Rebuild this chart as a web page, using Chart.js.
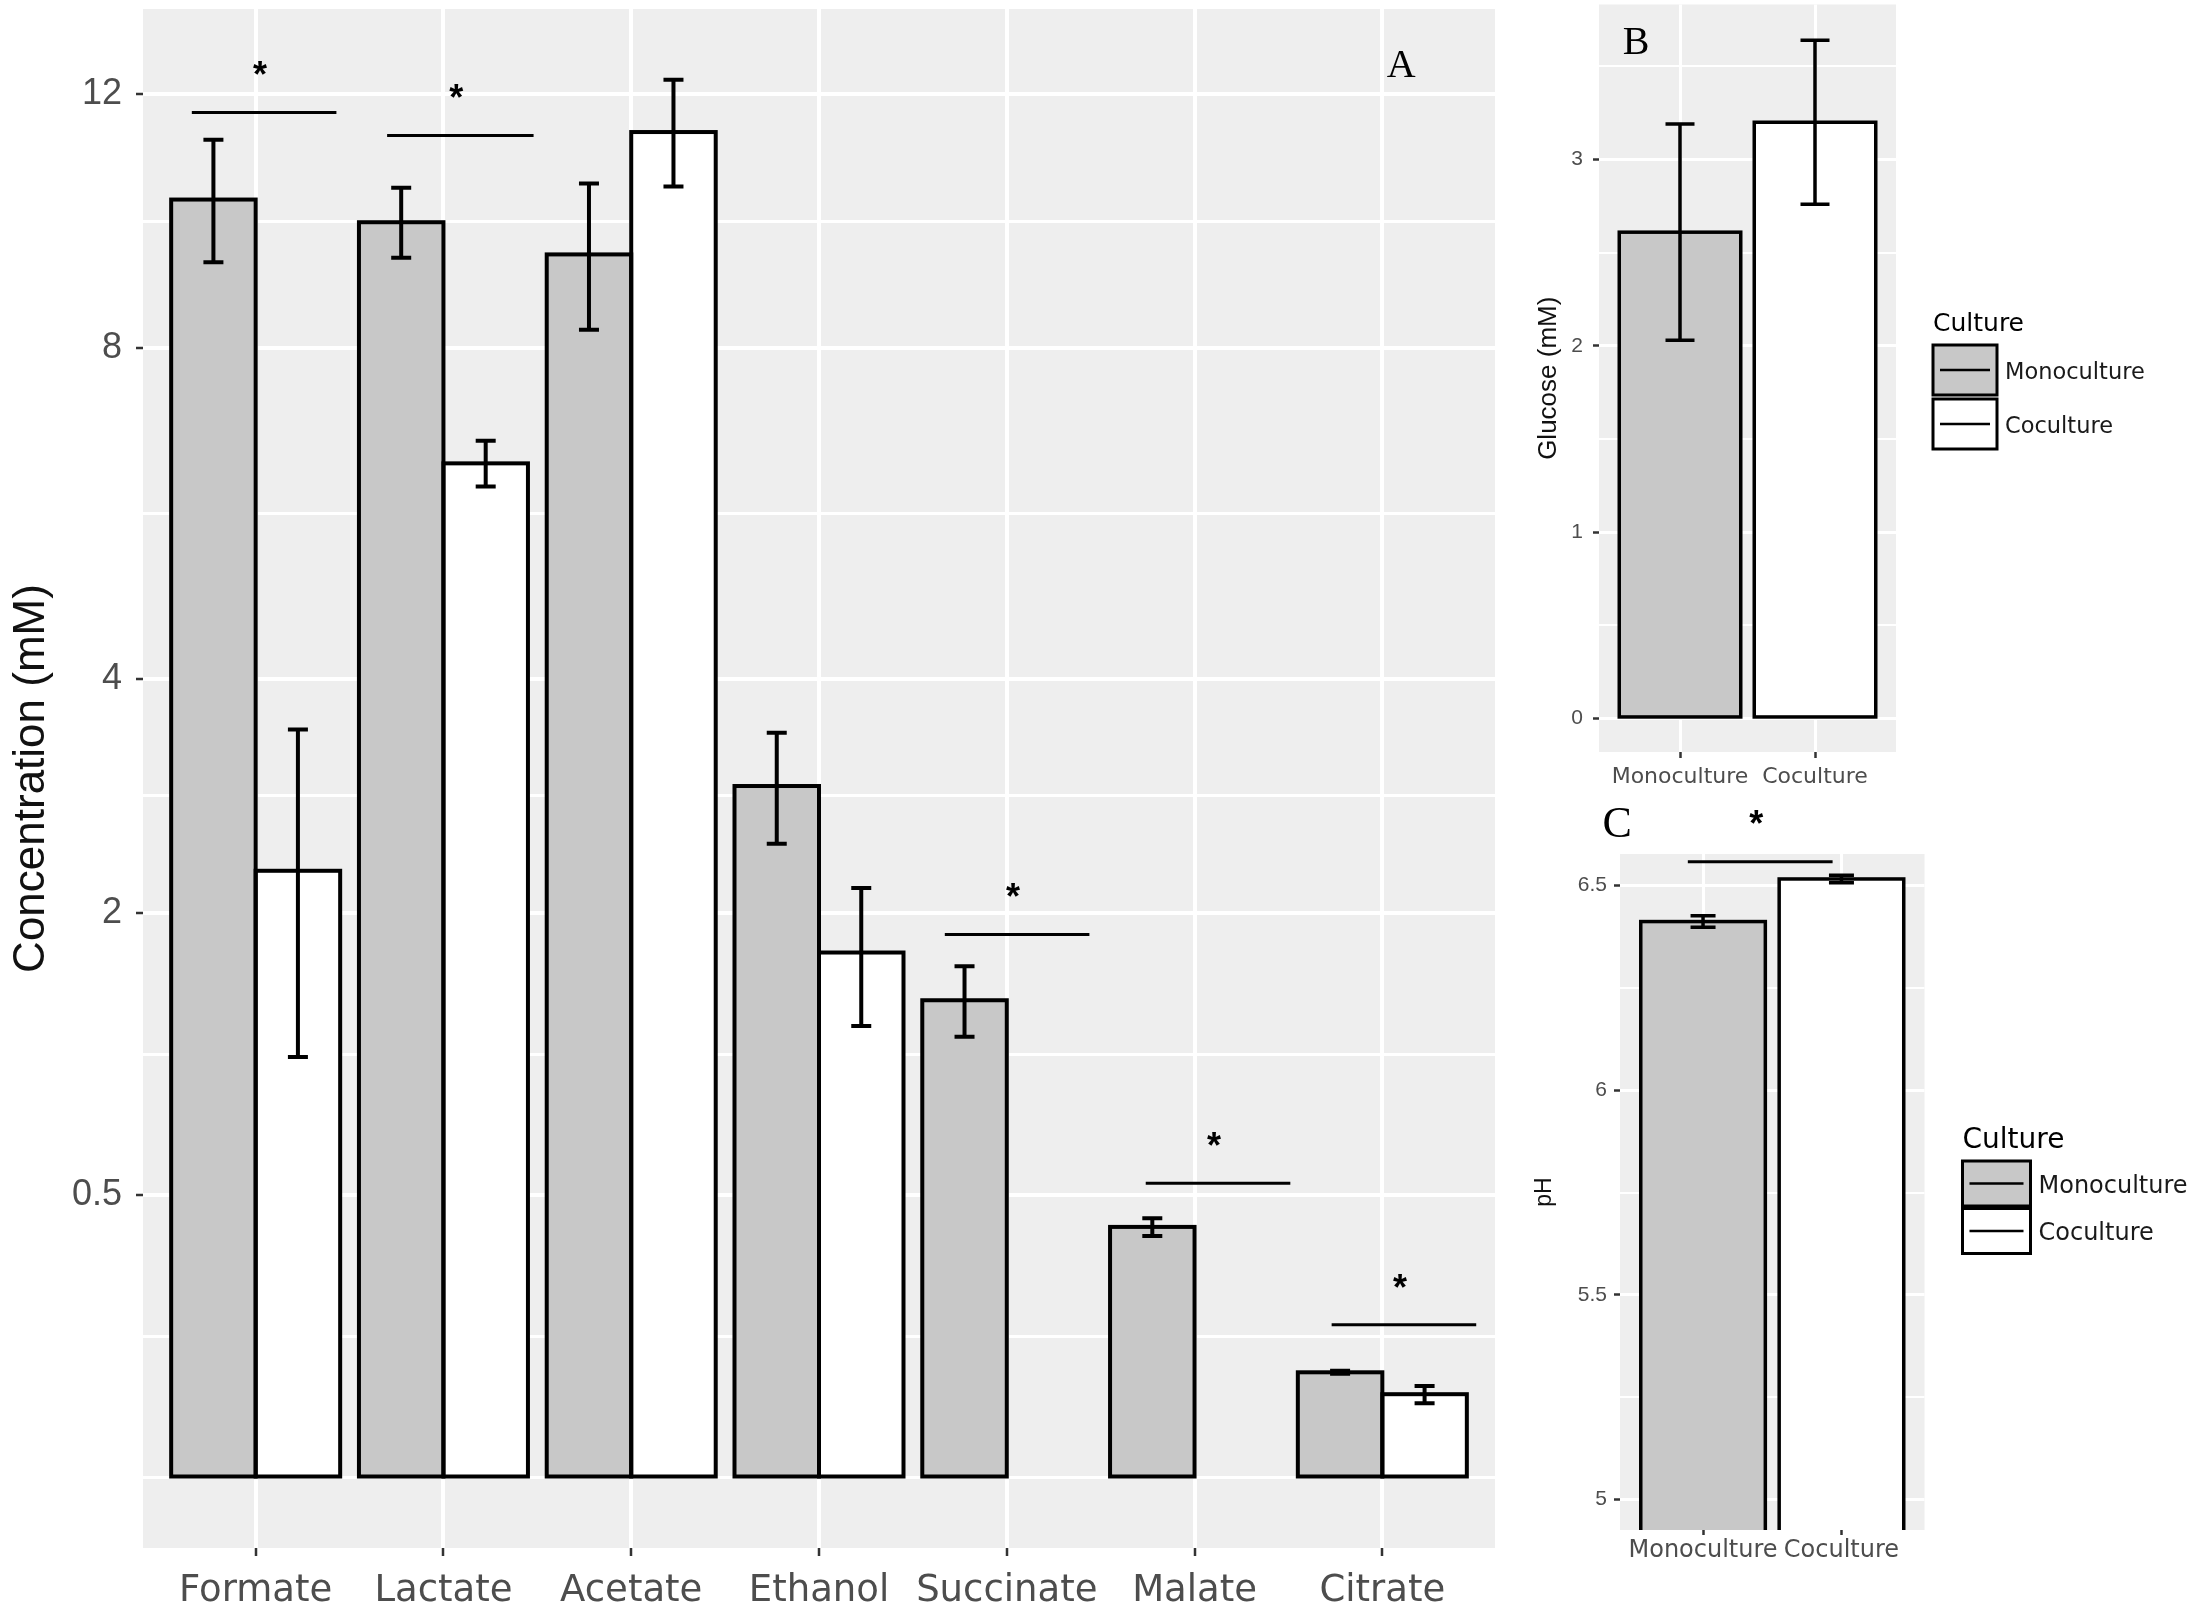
<!DOCTYPE html>
<html>
<head>
<meta charset="utf-8">
<script src="https://cdn.jsdelivr.net/npm/chart.js@4.4.1/dist/chart.umd.min.js"></script>
<style>
    html, body { margin: 0; padding: 0; background: #fff; }
    body { width: 2200px; height: 1609px; position: relative; overflow: hidden; }
    .panel { position: absolute; }
    #boxA { left: 0; top: 0; width: 1500px; height: 1609px; }
    #boxB { left: 1500px; top: 0; width: 700px; height: 795px; }
    #boxC { left: 1500px; top: 795px; width: 700px; height: 814px; }
</style>
</head>
<body>
<div class="panel" id="boxA"><canvas id="chartA"></canvas></div>
<div class="panel" id="boxB"><canvas id="chartB"></canvas></div>
<div class="panel" id="boxC"><canvas id="chartC"></canvas></div>
<script>
// ===== DATA =====
const acids = ['Formate', 'Lactate', 'Acetate', 'Ethanol', 'Succinate', 'Malate', 'Citrate'];
const monoMeans = [10.24, 9.88, 9.38, 3.00, 1.43, 0.395, 0.070];
const monoErr   = [0.98, 0.55, 1.12, 0.48, 0.21, 0.028, 0.002];
const cocMeans  = [2.31, 6.45, 11.35, 1.73, null, null, 0.044];
const cocErr    = [1.20, 0.29, 0.90, 0.45, null, null, 0.009];
const yTicksA = [0.5, 2, 4, 8, 12];

// significance bars: category index, level (mM), start / end offset in category units
const sigIndex = [0, 1, 4, 5, 6];
const sigLevel = [11.68, 11.29, 1.85, 0.544, 0.147];
const sigFrom  = [-0.34, -0.30, -0.33, -0.26, -0.27];
const sigTo    = [0.43, 0.48, 0.44, 0.51, 0.50];

const cultures = ['Monoculture', 'Coculture'];
const glucoseMeans = [2.61, 3.20];
const glucoseErr   = [0.58, 0.44];
const yTicksB = [0, 1, 2, 3];

const phMeans = [6.412, 6.516];
const phErr   = [0.014, 0.009];
const yTicksC = [5, 5.5, 6, 6.5];
const phSigLevel = 6.558;

const GREY = '#C8C8C8';
const PANEL = '#EEEEEE';
const TICK_TXT = '#4D4D4D';

Chart.defaults.font.family = '"Liberation Sans", Arial, sans-serif';

// ===== sqrt scale (like scale_y_sqrt) =====
const sq = v => Math.sign(v) * Math.sqrt(Math.abs(v));
class SqrtScale extends Chart.LinearScale {
    static id = 'sqrt';
    static defaults = Chart.LinearScale.defaults;
    getPixelForValue(value) {
        const s = sq(this.min), e = sq(this.max);
        return this.getPixelForDecimal((sq(value) - s) / (e - s));
    }
    getValueForPixel(pixel) {
        const s = sq(this.min), e = sq(this.max);
        const t = s + this.getDecimalForPixel(pixel) * (e - s);
        return Math.sign(t) * t * t;
    }
}
Chart.register(SqrtScale);

const isMajor = (majors, v) => majors.some(m => Math.abs(m - v) < 1e-6);

// majors plus minor breaks half way between them (in transformed space)
function withMinors(majors, f, finv, lo, hi) {
    const t = majors.map(f);
    const n = t.length;
    const ext = [t[0] - (t[1] - t[0]), ...t, t[n - 1] + (t[n - 1] - t[n - 2])];
    const minors = [];
    for (let i = 1; i < ext.length; i++) minors.push(finv((ext[i - 1] + ext[i]) / 2));
    minors.push(finv(ext[0]), finv(ext[ext.length - 1]));
    return [...majors, ...minors.filter(v => !isMajor(majors, v))]
        .filter(v => v >= lo - 1e-9 && v <= hi + 1e-9)
        .sort((a, b) => a - b);
}

function gridFor(majors, wMajor, wMinor, tickLen) {
    return {
        color: '#FFFFFF',
        lineWidth: c => (c.tick && isMajor(majors, c.tick.value)) ? wMajor : wMinor,
        tickColor: c => (c.tick && isMajor(majors, c.tick.value)) ? '#333333' : 'rgba(0,0,0,0)',
        tickLength: tickLen,
        tickWidth: 2.5
    };
}

function categoryAxis(labels, lo, hi, height, fontSize, pad, gridW, tickLen) {
    return {
        type: 'linear', min: lo, max: hi, offset: false,
        afterBuildTicks: s => { s.ticks = labels.map((c, i) => ({ value: i })); },
        afterFit: s => { s.height = height; s.paddingLeft = 0; s.paddingRight = 0; },
        ticks: { callback: v => labels[v] ?? '', font: { family: 'DejaVu Sans', size: fontSize }, color: TICK_TXT, padding: pad, autoSkip: false, maxRotation: 0, minRotation: 0 },
        grid: { offset: false, color: '#FFFFFF', lineWidth: gridW, tickLength: tickLen, tickColor: '#333333', tickWidth: 2.5 },
        border: { display: false }
    };
}

function valueAxis(type, majors, lo, hi, all, width, fontSize, pad, gw, gwMinor, tickLen, title, titleSize, titlePad) {
    return {
        type: type, min: lo, max: hi, bounds: 'data',
        afterBuildTicks: s => { s.ticks = all.map(v => ({ value: v })); },
        afterFit: s => { s.width = width; s.paddingTop = 0; s.paddingBottom = 0; },
        ticks: { callback: v => isMajor(majors, v) ? String(v) : '', font: { size: fontSize }, color: TICK_TXT, padding: pad, autoSkip: false },
        grid: gridFor(majors, gw, gwMinor, tickLen),
        border: { display: false },
        title: { display: true, text: title, font: { size: titleSize }, color: '#111', padding: { top: titlePad, bottom: 0 } }
    };
}

// ===== plugins =====
const panelBg = {
    id: 'panelBg',
    beforeDraw(chart) {
        const { ctx, chartArea: a } = chart;
        ctx.save();
        ctx.fillStyle = PANEL;
        ctx.fillRect(a.left, a.top, a.right - a.left, a.bottom - a.top);
        ctx.restore();
    }
};

const barDecor = {
    id: 'barDecor',
    afterDatasetsDraw(chart, args, o) {
        const { ctx, chartArea: a } = chart;
        const y = chart.scales.y;
        ctx.save();
        ctx.beginPath();
        ctx.rect(a.left, a.top, a.right - a.left, a.bottom - a.top);
        ctx.clip();
        ctx.strokeStyle = '#000';
        chart.data.datasets.forEach((ds, di) => {
            const meta = chart.getDatasetMeta(di);
            meta.data.forEach((bar, i) => {
                const pt = ds.data[i];
                if (pt.y == null) return;
                ctx.lineWidth = o.outline;
                ctx.strokeRect(bar.x - bar.width / 2, bar.y, bar.width, bar.base - bar.y);
                const err = ds.errors[i];
                if (err == null) return;
                const top = y.getPixelForValue(pt.y + err);
                const bot = y.getPixelForValue(pt.y - err);
                ctx.lineWidth = o.errWidth;
                ctx.beginPath();
                ctx.moveTo(bar.x, top); ctx.lineTo(bar.x, bot);
                ctx.moveTo(bar.x - o.cap / 2, top); ctx.lineTo(bar.x + o.cap / 2, top);
                ctx.moveTo(bar.x - o.cap / 2, bot); ctx.lineTo(bar.x + o.cap / 2, bot);
                ctx.stroke();
            });
        });
        ctx.restore();
    }
};

const sigMarks = {
    id: 'sigMarks',
    afterDraw(chart, args, o) {
        const { ctx } = chart;
        const x = chart.scales.x, y = chart.scales.y;
        ctx.save();
        ctx.strokeStyle = '#000';
        ctx.fillStyle = '#000';
        ctx.lineWidth = 3;
        o.index.forEach((ci, k) => {
            const x0 = x.getPixelForValue(ci + o.from[k]);
            const x1 = x.getPixelForValue(ci + o.to[k]);
            const ly = y.getPixelForValue(o.level[k]);
            ctx.beginPath();
            ctx.moveTo(x0, ly); ctx.lineTo(x1, ly);
            ctx.stroke();
            ctx.font = 'bold 36px "Liberation Sans"';
            ctx.textAlign = 'center';
            ctx.textBaseline = 'alphabetic';
            ctx.fillText('*', (x0 + x1) / 2 - 4, ly - 44 + 0.52 * 36);
        });
        if (o.letter) {
            ctx.font = o.letterSize + 'px "Liberation Serif"';
            ctx.textAlign = 'center';
            ctx.textBaseline = 'middle';
            ctx.fillText(o.letter, x.getPixelForValue(o.letterX), y.getPixelForValue(o.letterY));
        }
        ctx.restore();
    }
};

const cultureLegend = {
    id: 'cultureLegend',
    afterDraw(chart, args, o) {
        if (!o.labels) return;
        const { ctx, chartArea: a } = chart;
        const left = a.right + o.gap;
        ctx.save();
        ctx.fillStyle = '#000';
        ctx.textAlign = 'left';
        ctx.textBaseline = 'middle';
        ctx.font = o.titleSize + 'px "DejaVu Sans"';
        ctx.fillText('Culture', left, o.titleY);
        o.labels.forEach((lab, i) => {
            const top = o.keyTop + i * o.keyStep;
            ctx.fillStyle = o.fills[i];
            ctx.fillRect(left, top, o.keyW, o.keyH);
            ctx.strokeStyle = '#000';
            ctx.lineWidth = 3;
            ctx.strokeRect(left, top, o.keyW, o.keyH);
            ctx.lineWidth = 2.5;
            ctx.beginPath();
            ctx.moveTo(left + 7, top + o.keyH / 2);
            ctx.lineTo(left + o.keyW - 7, top + o.keyH / 2);
            ctx.stroke();
            ctx.fillStyle = '#1A1A1A';
            ctx.font = o.labelSize + 'px "DejaVu Sans"';
            ctx.fillText(lab, left + o.keyW + 8, top + o.keyH / 2 + 3);
        });
        ctx.restore();
    }
};

// ===== Panel A =====
const yMinA = -0.0307, yMaxA = 13.52;
const yAllA = withMinors(yTicksA, Math.sqrt, t => Math.sign(t) * t * t, 0, yMaxA);

new Chart(document.getElementById('chartA'), {
    type: 'bar',
    data: {
        datasets: [
            { label: 'Monoculture', data: monoMeans.map((v, i) => ({ x: i, y: v })), errors: monoErr, backgroundColor: GREY, borderWidth: 0 },
            { label: 'Coculture', data: cocMeans.map((v, i) => ({ x: i, y: v })), errors: cocErr, backgroundColor: '#FFFFFF', borderWidth: 0 }
        ]
    },
    options: {
        responsive: true, maintainAspectRatio: false, animation: false,
        layout: { padding: { top: 9, right: 5, left: 0, bottom: 0 } },
        datasets: { bar: { categoryPercentage: 0.9, barPercentage: 1.0 } },
        plugins: {
            legend: { display: false }, tooltip: { enabled: false },
            barDecor: { outline: 4, errWidth: 4, cap: 20 },
            sigMarks: { index: sigIndex, level: sigLevel, from: sigFrom, to: sigTo, letter: 'A', letterX: 6.1, letterY: 12.49, letterSize: 40 }
        },
        scales: {
            x: categoryAxis(acids, -0.6, 6.6, 61, 37, 13, 4, 8),
            y: valueAxis('sqrt', yTicksA, yMinA, yMaxA, yAllA, 143, 36, 14, 4, 3, 7, 'Concentration (mM)', 44, 5)
        }
    },
    plugins: [panelBg, barDecor, sigMarks]
});

// ===== Panel B =====
const yMinB = -0.18, yMaxB = 3.832;
const yAllB = withMinors(yTicksB, v => v, v => v, yMinB, yMaxB);

new Chart(document.getElementById('chartB'), {
    type: 'bar',
    data: {
        datasets: [
            { label: 'Glucose', data: glucoseMeans.map((v, i) => ({ x: i, y: v })), errors: glucoseErr, backgroundColor: [GREY, '#FFFFFF'], borderWidth: 0 }
        ]
    },
    options: {
        responsive: true, maintainAspectRatio: false, animation: false,
        layout: { padding: { top: 4.5, right: 304, left: 0, bottom: 0 } },
        datasets: { bar: { categoryPercentage: 0.9, barPercentage: 1.0 } },
        plugins: {
            legend: { display: false }, tooltip: { enabled: false },
            barDecor: { outline: 3.5, errWidth: 3.5, cap: 29 },
            sigMarks: { index: [], level: [], from: [], to: [], letter: 'B', letterX: -0.326, letterY: 3.62, letterSize: 40 },
            cultureLegend: { labels: cultures, fills: [GREY, '#FFFFFF'], gap: 37, titleY: 324.5, titleSize: 25, labelSize: 22.5, keyTop: 345, keyStep: 54, keyW: 64, keyH: 50 }
        },
        scales: {
            x: categoryAxis(cultures, -0.6, 1.6, 795 - 752, 22, 6, 3, 6),
            y: valueAxis('linear', yTicksB, yMinB, yMaxB, yAllB, 99, 21, 10, 3, 2, 6, 'Glucose (mM)', 26, 33)
        }
    },
    plugins: [panelBg, barDecor, sigMarks, cultureLegend]
});

// ===== Panel C =====
const yMinC = 4.926, yMaxC = 6.577;
const yAllC = withMinors(yTicksC, v => v, v => v, yMinC, yMaxC);

new Chart(document.getElementById('chartC'), {
    type: 'bar',
    data: {
        datasets: [
            { label: 'pH', data: phMeans.map((v, i) => ({ x: i, y: v })), errors: phErr, backgroundColor: [GREY, '#FFFFFF'], borderWidth: 0 }
        ]
    },
    options: {
        responsive: true, maintainAspectRatio: false, animation: false,
        layout: { padding: { top: 59, right: 275.5, left: 0, bottom: 0 } },
        datasets: { bar: { categoryPercentage: 0.9, barPercentage: 1.0 } },
        plugins: {
            legend: { display: false }, tooltip: { enabled: false },
            barDecor: { outline: 3.5, errWidth: 3.5, cap: 25 },
            sigMarks: { index: [0], level: [phSigLevel], from: [-0.11], to: [0.936], letter: 'C', letterX: -0.621, letterY: 6.646, letterSize: 44 },
            cultureLegend: { labels: cultures, fills: [GREY, '#FFFFFF'], gap: 38, titleY: 346, titleSize: 28, labelSize: 24, keyTop: 366, keyStep: 47.5, keyW: 68, keyH: 45 }
        },
        scales: {
            x: categoryAxis(cultures, -0.6, 1.6, 814 - 735, 24, 1, 3, 5),
            y: valueAxis('linear', yTicksC, yMinC, yMaxC, yAllC, 120, 21, 7, 3, 2, 6, 'pH', 23, 31)
        }
    },
    plugins: [panelBg, barDecor, sigMarks, cultureLegend]
});
</script>
</body>
</html>
